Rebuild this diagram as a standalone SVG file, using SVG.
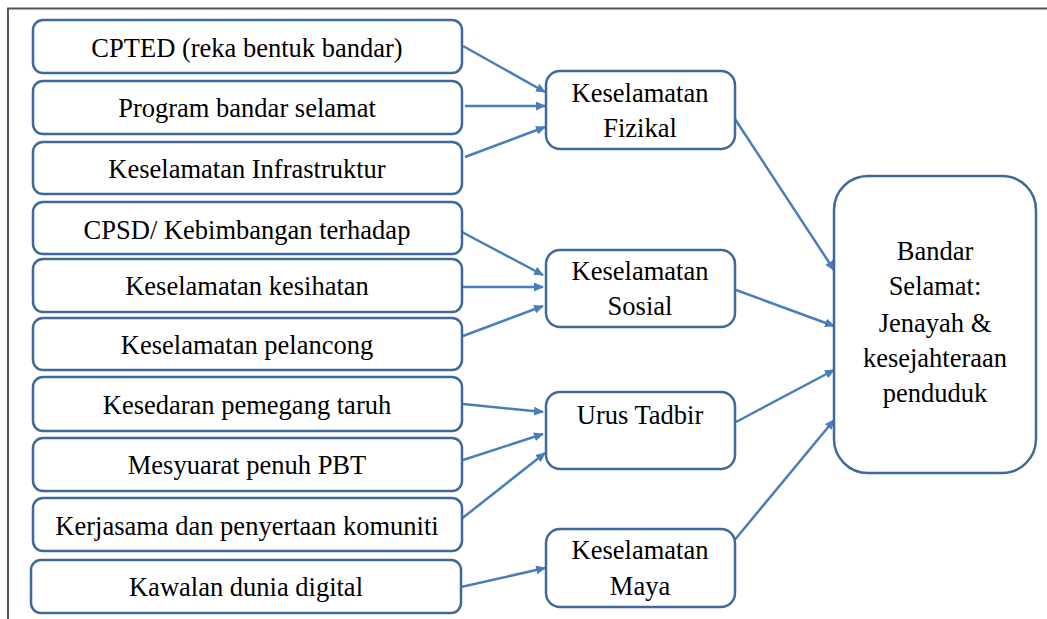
<svg xmlns="http://www.w3.org/2000/svg" width="1047" height="619" viewBox="0 0 1047 619">
<style>
.box{fill:#fff;stroke:#41689a;stroke-width:2.5}
.t{font-size:26.5px;fill:#000;text-anchor:middle}
.c{stroke:#4a7ebb;stroke-width:2.5;fill:none;marker-end:url(#ah)}
</style>
<defs>
<marker id="ah" markerWidth="10" markerHeight="9" refX="9" refY="4.5" orient="auto" markerUnits="userSpaceOnUse" viewBox="0 0 10 9">
<path d="M0,0 L10,4.5 L0,9 z" fill="#4a7ebb"/>
</marker>
</defs>
<rect width="1047" height="619" fill="#fff"/>
<path d="M8,619 L8,8.5 L1047,8.5" stroke="#555" stroke-width="2" fill="none"/>
<g id="connectors">
<path class="c" d="M463,46 L545,92"/>
<path class="c" d="M465,106 L545,106"/>
<path class="c" d="M465,157 L545,127"/>
<path class="c" d="M460,231 L543,275"/>
<path class="c" d="M463,287 L543,287"/>
<path class="c" d="M463,336 L543,306"/>
<path class="c" d="M463,404 L543,412"/>
<path class="c" d="M463,460 L543,434"/>
<path class="c" d="M460,520 L545,453"/>
<path class="c" d="M461,587 L545,568"/>
<path class="c" d="M735,119 L834,270"/>
<path class="c" d="M736,290 L834,326"/>
<path class="c" d="M736,422 L834,370"/>
<path class="c" d="M733,542 L834,420"/>
</g>
<g font-family="Liberation Serif, DejaVu Serif, serif">
<g id="n1"><rect class="box" x="33" y="20" width="429" height="53" rx="10"/><text class="t" x="247" y="57">CPTED (reka bentuk bandar)</text></g>
<g id="n2"><rect class="box" x="33" y="81" width="429" height="53" rx="10"/><text class="t" x="247" y="117">Program bandar selamat</text></g>
<g id="n3"><rect class="box" x="33" y="142" width="429" height="52" rx="10"/><text class="t" x="247" y="178">Keselamatan Infrastruktur</text></g>
<g id="n4"><rect class="box" x="33" y="202" width="429" height="52" rx="10"/><text class="t" x="247" y="239">CPSD/ Kebimbangan terhadap</text></g>
<g id="n5"><rect class="box" x="33" y="259" width="429" height="53" rx="10"/><text class="t" x="247" y="295">Keselamatan kesihatan</text></g>
<g id="n6"><rect class="box" x="33" y="318" width="429" height="52" rx="10"/><text class="t" x="247" y="354">Keselamatan pelancong</text></g>
<g id="n7"><rect class="box" x="33" y="377" width="429" height="54" rx="10"/><text class="t" x="247" y="414">Kesedaran pemegang taruh</text></g>
<g id="n8"><rect class="box" x="33" y="438" width="429" height="53" rx="10"/><text class="t" x="247" y="474">Mesyuarat penuh PBT</text></g>
<g id="n9"><rect class="box" x="33" y="498" width="429" height="53" rx="10"/><text class="t" x="247" y="535">Kerjasama dan penyertaan komuniti</text></g>
<g id="n10"><rect class="box" x="31" y="560" width="430" height="53" rx="10"/><text class="t" x="246" y="596">Kawalan dunia digital</text></g>
<g id="m1"><rect class="box" x="546" y="71" width="189" height="78" rx="14"/><text class="t" x="640" y="102">Keselamatan</text><text class="t" x="640" y="137">Fizikal</text></g>
<g id="m2"><rect class="box" x="546" y="250" width="189" height="77" rx="14"/><text class="t" x="640" y="280">Keselamatan</text><text class="t" x="640" y="315">Sosial</text></g>
<g id="m3"><rect class="box" x="546" y="392" width="189" height="77" rx="14"/><text class="t" x="640" y="424">Urus Tadbir</text></g>
<g id="m4"><rect class="box" x="546" y="529" width="189" height="78" rx="14"/><text class="t" x="640" y="559">Keselamatan</text><text class="t" x="640" y="595">Maya</text></g>
<g id="target"><rect class="box" x="834" y="176" width="202" height="297" rx="34"/>
<text class="t" x="935" y="260">Bandar</text>
<text class="t" x="935" y="295">Selamat:</text>
<text class="t" x="935" y="332">Jenayah &amp;</text>
<text class="t" x="935" y="367">kesejahteraan</text>
<text class="t" x="935" y="402">penduduk</text>
</g>
</g>
</svg>
